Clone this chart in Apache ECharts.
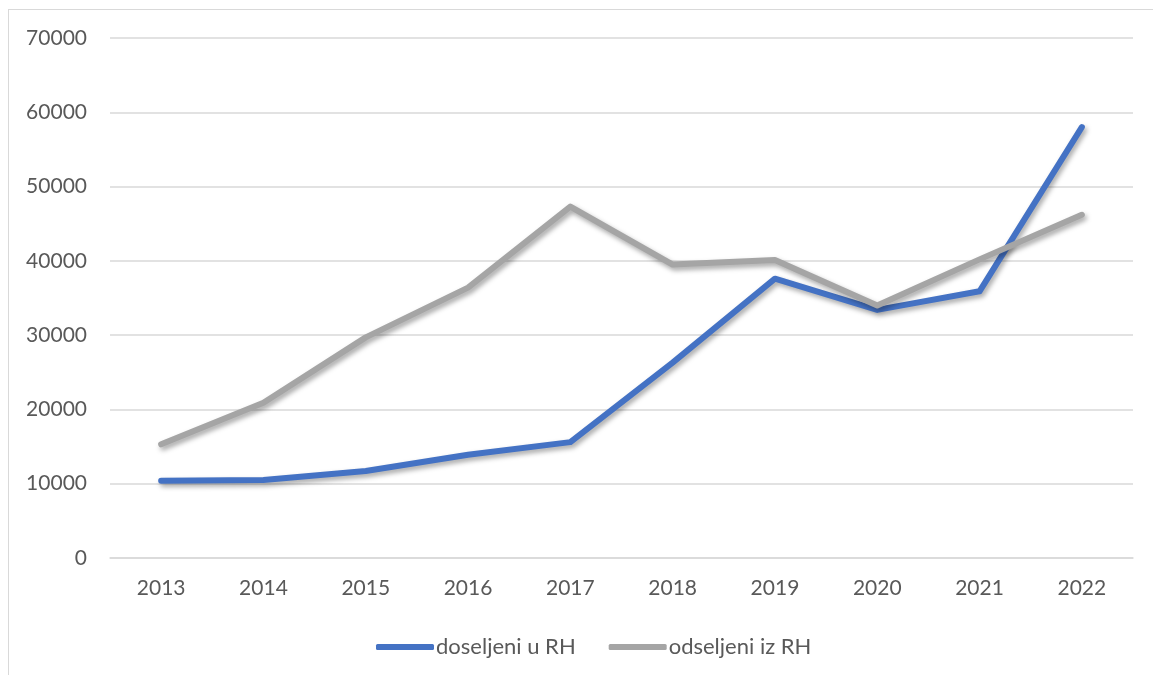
<!DOCTYPE html>
<html>
<head>
<meta charset="utf-8">
<script src="https://cdn.jsdelivr.net/npm/echarts@6/dist/echarts.min.js"></script>
<style>
  html, body { margin: 0; padding: 0; background: #fff; }
  #frame { position: absolute; left: 8px; top: 9px; width: 1160px; height: 680px; border: 1px solid #d9d9d9; box-sizing: border-box; }
  #chart { position: absolute; left: 0; top: 0; width: 1153px; height: 675px; }
</style>
</head>
<body>
<div id="frame"></div>
<div id="chart"></div>
<script>
  const years = ['2013', '2014', '2015', '2016', '2017', '2018', '2019', '2020', '2021', '2022'];
  const doseljeni = [10400, 10500, 11700, 13900, 15600, 26300, 37600, 33400, 35900, 58000];
  const odseljeni = [15300, 20900, 29700, 36400, 47300, 39500, 40100, 34000, 40200, 46200];

  const font = 'Lato, "Liberation Sans", sans-serif';
  const chart = echarts.init(document.getElementById('chart'));

  function lineSeries(name, data, color) {
    return {
      name: name,
      type: 'line',
      data: data,
      symbol: 'none',
      lineStyle: {
        width: 6,
        color: color,
        cap: 'round',
        join: 'round',
        shadowColor: 'rgba(0, 0, 0, 0.35)',
        shadowBlur: 5,
        shadowOffsetX: 2,
        shadowOffsetY: 3
      },
      itemStyle: { color: color },
      animation: false
    };
  }

  chart.setOption({
    animation: false,
    grid: { left: 110, right: 20, top: 38, bottom: 117 },
    legend: {
      top: 631,
      left: 371,
      itemWidth: 58,
      itemHeight: 6,
      itemGap: 33,
      icon: 'roundRect',
      textStyle: { fontFamily: font, fontSize: 22, color: '#595959', padding: [0, 0, 0, -3] },
      data: ['doseljeni u RH', 'odseljeni iz RH']
    },
    xAxis: {
      type: 'category',
      data: years,
      axisLine: { lineStyle: { color: '#d9d9d9', width: 1.5 } },
      axisTick: { show: false },
      axisLabel: { fontFamily: font, fontSize: 21, color: '#595959', margin: 20 }
    },
    yAxis: {
      type: 'value',
      min: 0,
      max: 70000,
      interval: 10000,
      axisLine: { show: false },
      axisTick: { show: false },
      splitLine: { lineStyle: { color: '#d9d9d9', width: 1.5 } },
      axisLabel: {
        fontFamily: font, fontSize: 21, color: '#595959', margin: 23,
        formatter: function (v) { return String(v); }
      }
    },
    series: [
      lineSeries('doseljeni u RH', doseljeni, '#4472c4'),
      lineSeries('odseljeni iz RH', odseljeni, '#a5a5a5')
    ]
  });
</script>
</body>
</html>
